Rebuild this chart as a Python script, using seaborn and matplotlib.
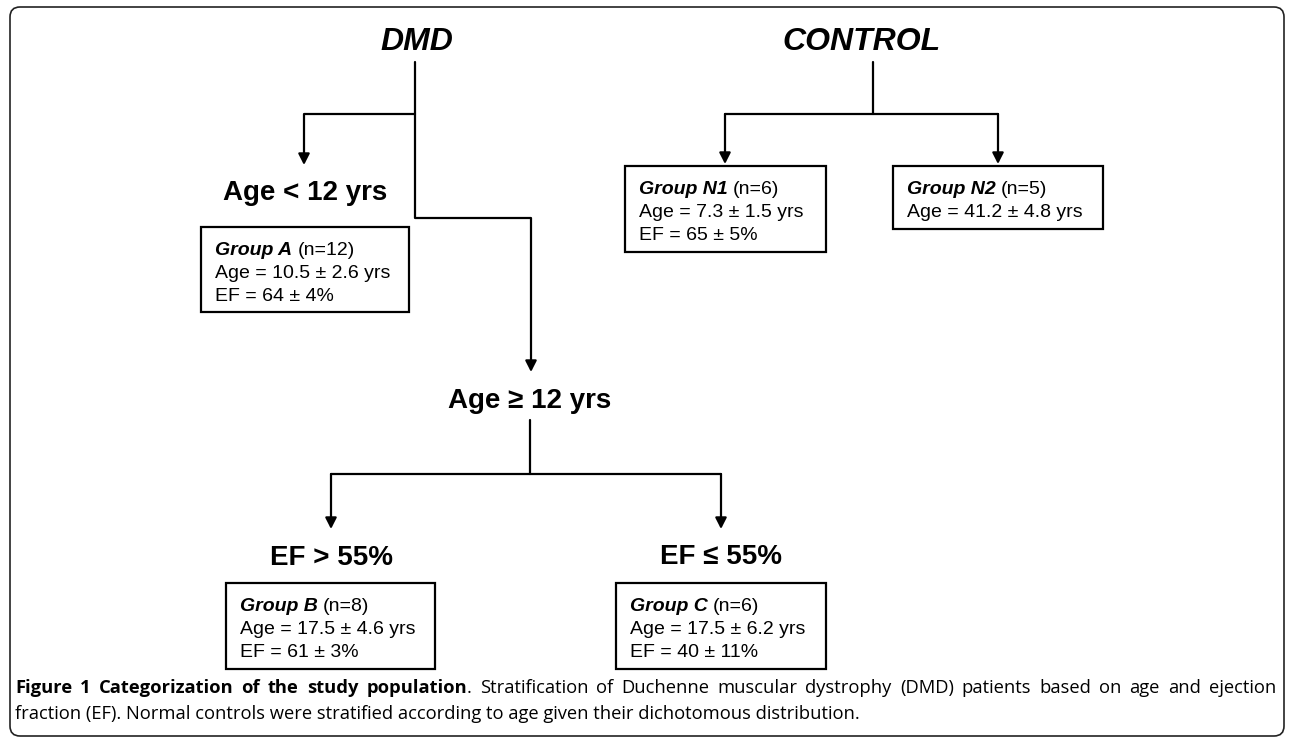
import numpy as np
import pandas as pd
import matplotlib.pyplot as plt
import seaborn as sns
from matplotlib.patches import Rectangle, FancyBboxPatch

sns.set_theme(style='white')
plt.rcParams['font.family'] = ['Liberation Sans', 'DejaVu Sans']
plt.rcParams['text.color'] = 'black'

# study groups
group_names = ['Group A', 'Group B', 'Group C', 'Group N1', 'Group N2']
group_n = [12, 8, 6, 6, 5]
age_mean = [10.5, 17.5, 17.5, 7.3, 41.2]
age_sd = [2.6, 4.6, 6.2, 1.5, 4.8]
ef_mean = [64, 61, 40, 65, None]
ef_sd = [4, 3, 11, 5, None]

headers = ['DMD', 'CONTROL']
split_labels = ['Age < 12 yrs', 'Age \u2265 12 yrs', 'EF > 55%', 'EF \u2264 55%']

caption_bold = 'Figure 1 Categorization of the study population'
caption_line1 = ('. Stratification of Duchenne muscular dystrophy (DMD) patients '
                 'based on age and ejection')
caption_line2 = ('fraction (EF). Normal controls were stratified according to age '
                 'given their dichotomous distribution.')

# layout (pixel space, y down)
header_pos = [(417, 50), (862, 50)]          # baseline
split_pos = [(305, 200), (530, 408), (331, 565), (721, 564)]
box_rect = [(201, 227, 409, 312), (226, 583, 435, 669), (616, 583, 826, 669),
            (625, 166, 826, 252), (893, 166, 1103, 229)]
paths = {
    'dmd_trunk': [(415, 62), (415, 218), (531, 218), (531, 372)],
    'dmd_left': [(415, 114), (304, 114), (304, 165)],
    'ctrl_trunk': [(873, 62), (873, 114)],
    'ctrl_bar': [(725, 114), (998, 114)],
    'ctrl_left': [(725, 114), (725, 164)],
    'ctrl_right': [(998, 114), (998, 164)],
    'age_trunk': [(530, 420), (530, 474)],
    'age_bar': [(331, 474), (721, 474)],
    'age_left': [(331, 474), (331, 529)],
    'age_right': [(721, 474), (721, 529)],
}
arrow_paths = ['dmd_trunk', 'dmd_left', 'ctrl_left', 'ctrl_right', 'age_left', 'age_right']

W, H = 1290, 741
fig = plt.figure(figsize=(W / 100, H / 100), dpi=100)
ax = fig.add_axes([0, 0, 1, 1])

rows = []
for name, pts in paths.items():
    pts = list(pts)
    if name in arrow_paths:
        x, y = pts[-1]
        pts[-1] = (x, y - 6)
    for i, (x, y) in enumerate(pts):
        rows.append({'path': name, 'order': i, 'x': x, 'y': y})
edges = pd.DataFrame(rows)
sns.lineplot(data=edges, x='x', y='y', units='path', estimator=None, sort=False,
             color='black', lw=1.6, ax=ax, legend=False)

for name in arrow_paths:
    x, y = paths[name][-1]
    ax.annotate('', xy=(x, y), xytext=(x, y - 12),
                arrowprops=dict(arrowstyle='-|>,head_length=0.55,head_width=0.28',
                                mutation_scale=12, color='black', lw=1.6,
                                shrinkA=0, shrinkB=0))

ax.set_xlim(0, W)
ax.set_ylim(H, 0)
ax.set_axis_off()

# outer frame
ax.add_patch(FancyBboxPatch((10, 7), 1274, 729, boxstyle='round,pad=0,rounding_size=10',
                            fill=False, ec='#222222', lw=1.2))

for label, (x, y) in zip(headers, header_pos):
    ax.text(x, y, label, ha='center', va='baseline', fontsize=23,
            fontweight='bold', fontstyle='italic', color='black')

for label, (x, y) in zip(split_labels, split_pos):
    ax.text(x, y, label, ha='center', va='baseline', fontsize=20,
            fontweight='bold', color='black')

renderer = fig.canvas.get_renderer()


def text_width(s, **kw):
    t = ax.text(0, 0, s, **kw)
    w = t.get_window_extent(renderer).width
    t.remove()
    return w


box_fs = 14
for i, (l, t, r, b) in enumerate(box_rect):
    ax.add_patch(Rectangle((l, t), r - l, b - t, fill=False, ec='black', lw=1.6))
    x0 = l + 14
    name_kw = dict(fontsize=box_fs, fontweight='bold', fontstyle='italic')
    ax.text(x0, t + 28, group_names[i], va='baseline', color='black', **name_kw)
    w = text_width(group_names[i], **name_kw)
    sp = text_width('a a', fontsize=box_fs) - text_width('aa', fontsize=box_fs)
    ax.text(x0 + w + sp, t + 28, f'(n={group_n[i]})', va='baseline', fontsize=box_fs,
            color='black')
    ax.text(x0, t + 51, f'Age = {age_mean[i]} \u00b1 {age_sd[i]} yrs', va='baseline',
            fontsize=box_fs, color='black')
    if ef_mean[i] is not None:
        ax.text(x0, t + 74, f'EF = {ef_mean[i]} \u00b1 {ef_sd[i]}%', va='baseline',
                fontsize=box_fs, color='black')

# caption, first line justified
cap_fs = 13.2
cap_family = ['Open Sans', 'DejaVu Sans']
tokens = []
bold_words = caption_bold.split()
for j, wd in enumerate(bold_words):
    segs = [(wd, 'bold')]
    if j == len(bold_words) - 1:
        segs.append(('.', 'normal'))
    tokens.append(segs)
for wd in caption_line1[1:].split():
    tokens.append([(wd, 'normal')])

widths = []
for segs in tokens:
    widths.append(sum(text_width(s, fontsize=cap_fs, fontweight=fw, family=cap_family)
                      for s, fw in segs))
left, right = 15, 1276
gap = (right - left - sum(widths)) / (len(tokens) - 1)
x = left
for segs, w in zip(tokens, widths):
    xx = x
    for s, fw in segs:
        ax.text(xx, 693, s, va='baseline', fontsize=cap_fs, fontweight=fw,
                family=cap_family, color='black')
        xx += text_width(s, fontsize=cap_fs, fontweight=fw, family=cap_family)
    x += w + gap

ax.text(left, 719, caption_line2, va='baseline', fontsize=cap_fs, family=cap_family,
        color='black')

fig.savefig('out.png', dpi=100)
